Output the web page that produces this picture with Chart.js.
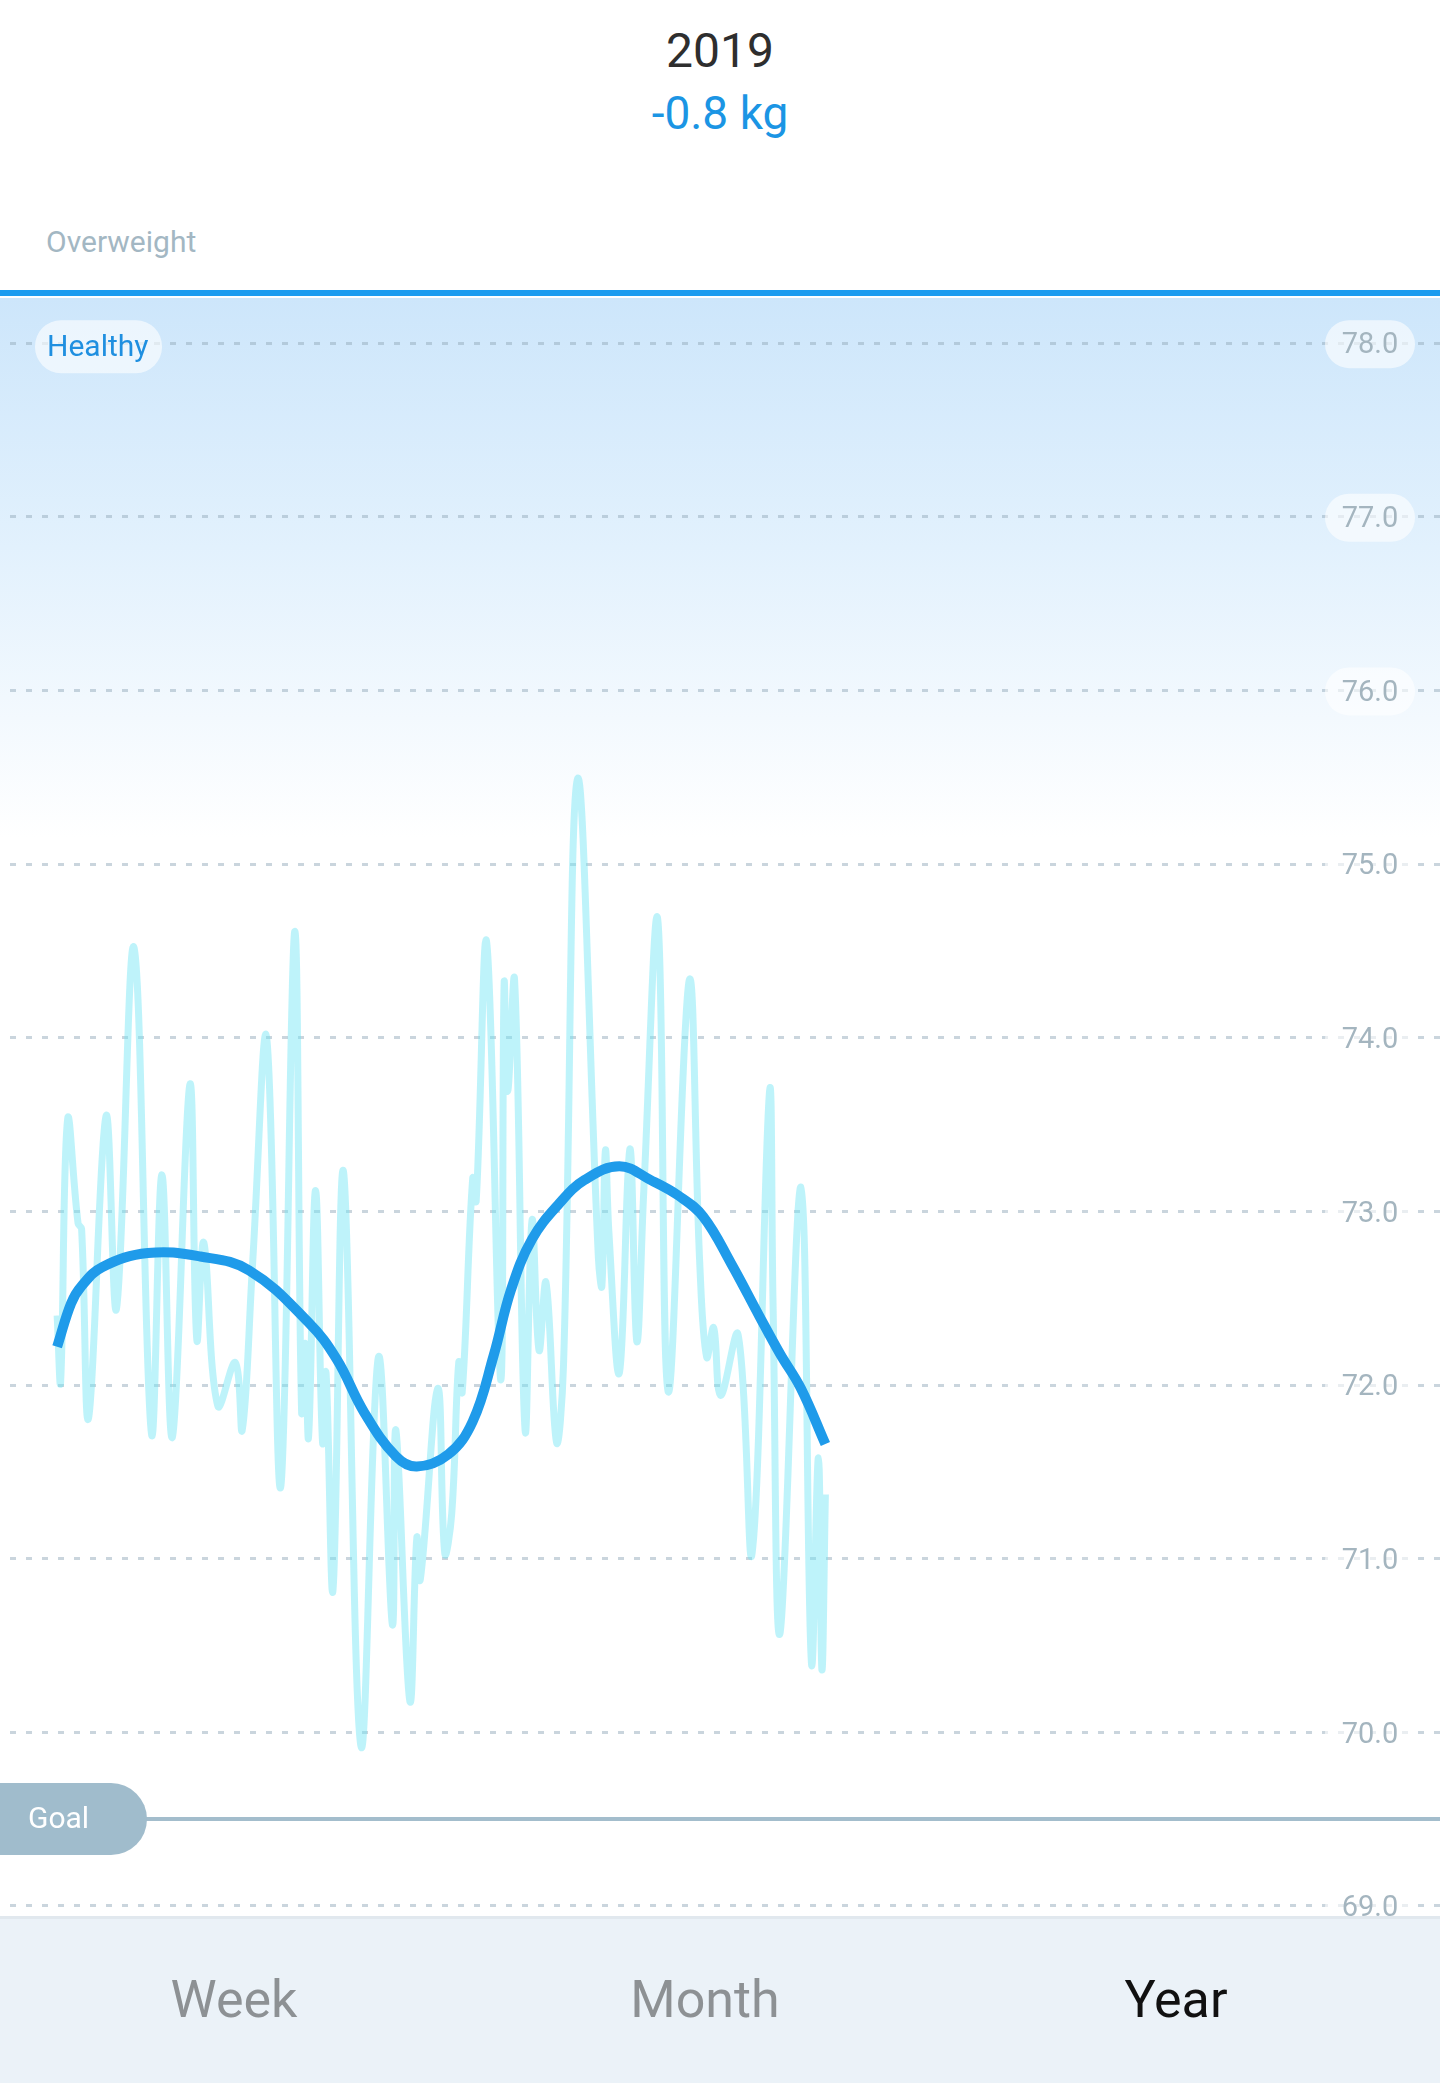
<!DOCTYPE html>
<html lang="en">
<head>
  <meta charset="UTF-8">
  <title>Weight 2019</title>
  <script src="https://cdn.jsdelivr.net/npm/chart.js"></script>
  <style>
    body {
      margin: 0;
      width: 1440px;
      height: 2083px;
      position: relative;
      background: #fff;
      font-family: Roboto, "Noto Sans", sans-serif;
      overflow: hidden;
    }
    .center {
      position: absolute;
      left: 0;
      width: 1440px;
      text-align: center;
    }
    #year { top: 22px; font-size: 48px; color: #2e2e2e; }
    #change { top: 86px; font-size: 46px; color: #1b95e4; }
    #overweight {
      position: absolute; left: 46px; top: 224px;
      font-size: 30px; color: #a3b7c3;
    }
    #limit {
      position: absolute; left: 0; top: 290px;
      width: 1440px; height: 6px; background: #1c9cef;
    }
    #wrap {
      position: absolute; left: 0; top: 298px;
      width: 1440px; height: 1618px;
      background: linear-gradient(to bottom, #cde6fb 0px, #e2f1fd 250px, #f3f9fe 420px, #ffffff 540px);
    }
    #tabs {
      position: absolute; left: 0; top: 1916px;
      width: 1440px; height: 167px;
      background: #ebf2f8;
      border-top: 3px solid #e1e8ee;
      box-sizing: border-box;
    }
    .tab {
      position: absolute; top: 50px;
      transform: translateX(-50%);
      font-size: 52px; color: #8d9194;
    }
    .tab.active { color: #111; }
  </style>
</head>
<body>
  <div id="year" class="center">2019</div>
  <div id="change" class="center">-0.8 kg</div>
  <div id="overweight">Overweight</div>
  <div id="limit"></div>
  <div id="wrap"><canvas id="chart"></canvas></div>
  <div id="tabs">
    <div class="tab" style="left:234px">Week</div>
    <div class="tab" style="left:705px">Month</div>
    <div class="tab active" style="left:1176px">Year</div>
  </div>
  <script>
    // day of year -> weight (kg)
    const rawDays = [0, 1, 3, 6, 7, 9, 14, 17, 22, 27, 30, 33, 38, 40, 42, 46, 51, 53, 56, 60, 64, 68, 70, 71, 72, 74, 76, 77, 79, 82,
      87, 92, 96, 97, 101, 103, 104, 109, 111, 113, 115, 116, 119, 120, 123, 127, 128, 129, 131, 134, 136, 138, 140, 143,
      145, 149, 155, 156, 157, 158, 161, 164, 166, 168, 172, 175, 181, 184, 186, 188, 190, 195, 199, 204, 205, 207, 213,
      216, 218, 219, 220];
    const rawWeights = [72.40, 72.02, 73.53, 72.93, 72.90, 71.81, 73.55, 72.44, 74.52, 71.72, 73.21, 71.70, 73.73, 72.26, 72.82,
      71.88, 72.13, 71.74, 72.71, 74.00, 71.41, 74.61, 71.85, 72.24, 71.70, 73.12, 71.67, 72.07, 70.82, 73.23,
      69.92, 72.16, 70.62, 71.74, 70.18, 71.12, 70.88, 71.98, 71.03, 71.26, 72.13, 71.96, 73.19, 73.06, 74.55, 72.03,
      74.31, 73.69, 74.33, 71.74, 72.95, 72.20, 72.59, 71.67, 72.11, 75.49, 72.73, 72.57, 73.35, 72.88, 72.07, 73.36,
      72.25, 73.12, 74.68, 71.96, 74.33, 72.71, 72.16, 72.33, 71.94, 72.29, 71.03, 73.69, 72.48, 70.57, 73.14, 70.40,
      71.58, 70.36, 71.37];

    const trendDays = [0, 4, 7, 13, 26, 41, 55, 72, 80, 88, 97, 103, 112, 119, 125, 130, 136, 144, 151, 161, 170, 178, 185,
      193, 201, 207, 213, 220];
    const trendWeights = [72.22, 72.47, 72.57, 72.68, 72.76, 72.74, 72.66, 72.36, 72.15, 71.84, 71.59, 71.53, 71.60, 71.79,
      72.17, 72.55, 72.84, 73.05, 73.18, 73.26, 73.18, 73.09, 72.97, 72.70, 72.40, 72.18, 71.98, 71.66];

    const weightTicks = [69, 70, 71, 72, 73, 74, 75, 76, 77, 78];
    const goalWeight = 69.5;
    const healthyWeight = 78;

    const pill = (ctx, x, y, w, h, r) => {
      ctx.beginPath();
      ctx.roundRect(x, y, w, h, r);
      ctx.fill();
    };

    const decorations = {
      id: 'decorations',
      afterDatasetsDraw(chart) {
        const {ctx, scales: {y}} = chart;
        ctx.save();

        // goal line + tag
        const gy = y.getPixelForValue(goalWeight);
        ctx.strokeStyle = '#a3bdcc';
        ctx.lineWidth = 4;
        ctx.beginPath();
        ctx.moveTo(140, gy);
        ctx.lineTo(chart.width, gy);
        ctx.stroke();
        ctx.fillStyle = '#a0bccc';
        pill(ctx, -40, gy - 36, 187, 72, 36);
        ctx.fillStyle = '#fff';
        ctx.font = '30px Roboto';
        ctx.textBaseline = 'middle';
        ctx.textAlign = 'left';
        ctx.fillText('Goal', 28, gy + 1);

        // healthy tag
        const hy = y.getPixelForValue(healthyWeight) + 3;
        ctx.fillStyle = 'rgba(255,255,255,0.6)';
        pill(ctx, 35, hy - 26, 127, 53, 26);
        ctx.fillStyle = '#1f8fe0';
        ctx.fillText('Healthy', 47, hy + 2);

        // tick labels on the right
        ctx.font = '29px Roboto';
        ctx.textAlign = 'center';
        y.ticks.forEach((t) => {
          const py = y.getPixelForValue(t.value);
          ctx.fillStyle = 'rgba(255,255,255,0.6)';
          pill(ctx, 1325, py - 23, 90, 48, 24);
          ctx.fillStyle = '#a4b5bf';
          ctx.fillText(t.label, 1370, py + 3);
        });
        ctx.restore();
      },
    };

    const ctx = document.getElementById('chart').getContext('2d');

    const chart = new Chart(ctx, {
      type: 'line',
      data: {
        datasets: [{
          label: 'Trend',
          data: trendDays.map((d, i) => ({x: d, y: trendWeights[i]})),
          borderColor: '#1f9bea',
          borderWidth: 10,
          tension: 0.4,
          pointRadius: 0,
          fill: false,
        }, {
          label: 'Weight',
          data: rawDays.map((d, i) => ({x: d, y: rawWeights[i]})),
          borderColor: 'rgba(110, 228, 245, 0.45)',
          borderWidth: 7,
          tension: 0.4,
          pointRadius: 0,
          fill: false,
        }],
      },
      options: {
        responsive: true,
        maintainAspectRatio: false,
        animation: false,
        layout: { padding: { left: 10, right: 0, top: 0, bottom: 0 } },
        plugins: {
          legend: { display: false },
          tooltip: { enabled: false },
        },
        scales: {
          x: {
            type: 'linear',
            min: -13.5,
            max: 396,
            display: false,
          },
          y: {
            type: 'linear',
            position: 'right',
            min: 68.942,
            max: 78.26,
            afterBuildTicks: (scale) => {
              scale.ticks = weightTicks.map((v) => ({value: v}));
            },
            ticks: {
              display: false,
              callback: (v) => Number(v).toFixed(1),
            },
            grid: {
              color: 'rgba(150, 172, 188, 0.5)',
              lineWidth: 3,
              drawTicks: false,
            },
            border: { display: false, dash: [6, 10] },
          },
        },
      },
      plugins: [decorations],
    });
  </script>
</body>
</html>
